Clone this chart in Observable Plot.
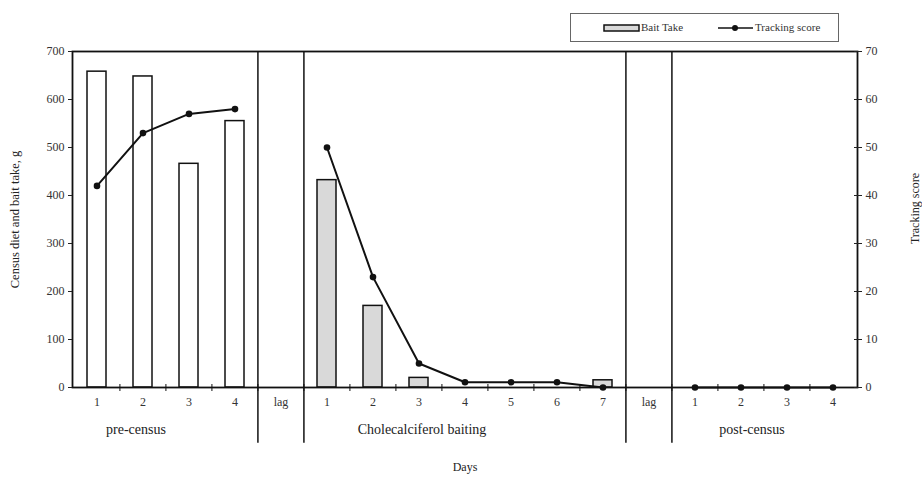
<!DOCTYPE html>
<html><head><meta charset="utf-8">
<script src="https://cdn.jsdelivr.net/npm/d3@7"></script>
<script src="https://cdn.jsdelivr.net/npm/@observablehq/plot@0.6"></script>
<style>
body{margin:0;background:#fff;font-family:"Liberation Serif",serif;}
#wrap{position:relative;width:922px;height:478px;}
#legend{position:absolute;left:570px;top:13px;width:269px;height:29px;border:1px solid #666;box-sizing:border-box;}
#legend svg{position:absolute;left:0;top:0;}
</style></head><body>
<div id="wrap"><div id="chart"></div>
<div id="legend"><svg width="268" height="28" font-family="Liberation Serif" font-size="11" fill="#333">
<rect x="33" y="11" width="35" height="6" fill="#d9d9d9" stroke="#111" stroke-width="1.5"></rect>
<text x="70" y="14" dominant-baseline="middle">Bait Take</text>
<line x1="147" x2="182" y1="14" y2="14" stroke="#111" stroke-width="1.5"></line>
<circle cx="164" cy="14" r="3" fill="#111"></circle>
<text x="184" y="14" dominant-baseline="middle">Tracking score</text>
</svg></div></div>
<script>
const keys = ["p1","p2","p3","p4","lagA","b1","b2","b3","b4","b5","b6","b7","lagB","q1","q2","q3","q4"];
const dayLabels = ["1","2","3","4","lag","1","2","3","4","5","6","7","lag","1","2","3","4"];
const phases = ["pre","pre","pre","pre","lag","bait","bait","bait","bait","bait","bait","bait","lag","post","post","post","post"];
const baitTake = [658,648,466,555,null,432,170,20,null,null,null,15,null,null,null,null,null];
const trackingScore = [42,53,57,58,null,50,23,5,1.1,1.1,1.1,0,null,0,0,0,0];
const phaseNames = ["pre-census","Cholecalciferol baiting","post-census"];
const phaseAnchors = ["p2","b3","q2"];
const separators = ["lagA","b1","lagB","q1"];

const label = new Map(keys.map((k,i)=>[k,dayLabels[i]]));
const data = keys.map((k,i)=>({key:k, phase:phases[i], bait:baitTake[i], track:trackingScore[i]}));
const bars = data.filter(d=>d.bait!=null);
const pts = data.filter(d=>d.track!=null);

const W = 922, H = 478, ML = 72, MR = 65, MT = 51, MB = 91;
const step = (W-ML-MR)/keys.length;
const leftTicks = d3.range(0,701,100);
const shifts = [-7, 3, 11];

const chart = Plot.plot({
  width: W, height: H,
  marginLeft: ML, marginRight: MR, marginTop: MT, marginBottom: MB,
  style: {fontFamily:"Liberation Serif", fontSize:"12px", color:"#222", background:"#fff"},
  x: {type:"band", domain: keys, paddingInner:0.58, paddingOuter:0.29, axis:null},
  y: {domain:[0,700], axis:null},
  marks: [
    Plot.barY(bars, {x:"key", y:"bait", fill: d=>d.phase==="bait" ? "#d9d9d9" : "#ffffff", stroke:"#111", strokeWidth:1.5}),
    Plot.ruleX(separators, {x: d=>d, dx: -step/2, y1: -116, y2: 700, stroke:"#111", strokeWidth:1.5}),
    Plot.frame({stroke:"#111", strokeWidth:1.8}),
    Plot.axisX({ticks: keys, tickFormat: k=>label.get(k), tickSize:0, tickPadding:10, label:null, fill:"#333"}),
    Plot.axisX({ticks: keys.slice(1), tickFormat: ()=>"", tickSize:7, dx:-step/2, dy:-3, label:null, stroke:"#111"}),
    Plot.axisY({anchor:"left", ticks: leftTicks, tickSize:4, tickPadding:4, label:null, fill:"#333"}),
    Plot.axisY({anchor:"right", ticks: leftTicks, tickFormat: d=>d/10, tickSize:0, tickPadding:8, label:null, fill:"#333"}),
    Plot.axisY({anchor:"right", ticks: leftTicks, tickFormat: ()=>"", tickSize:8, dx:-4, label:null}),
    Plot.text(["Census diet and bait take, g"], {text:d=>d, frameAnchor:"left", textAnchor:"middle", dx:-58, rotate:-90, fontSize:12.5, fill:"#222"}),
    Plot.text(["Tracking score"], {text:d=>d, frameAnchor:"right", textAnchor:"middle", dx:58, dy:-11, rotate:-90, fontSize:12, fill:"#222"}),
    Plot.line(pts, {x:"key", y: d=>d.track*10, z:"phase", stroke:"#111", strokeWidth:2}),
    Plot.dot(pts, {x:"key", y: d=>d.track*10, r:3.3, fill:"#111"}),
    ...phaseNames.map((t,i)=>Plot.text([t], {x: ()=>phaseAnchors[i], text:d=>d, frameAnchor:"bottom", dx: shifts[i], dy:46, fontSize:14, fill:"#222"})),
    Plot.text(["Days"], {text: d=>d, frameAnchor:"bottom", dy:83, fontSize:12, fill:"#222"})
  ]
});
document.getElementById("chart").appendChild(chart);
</script>
</body></html>
